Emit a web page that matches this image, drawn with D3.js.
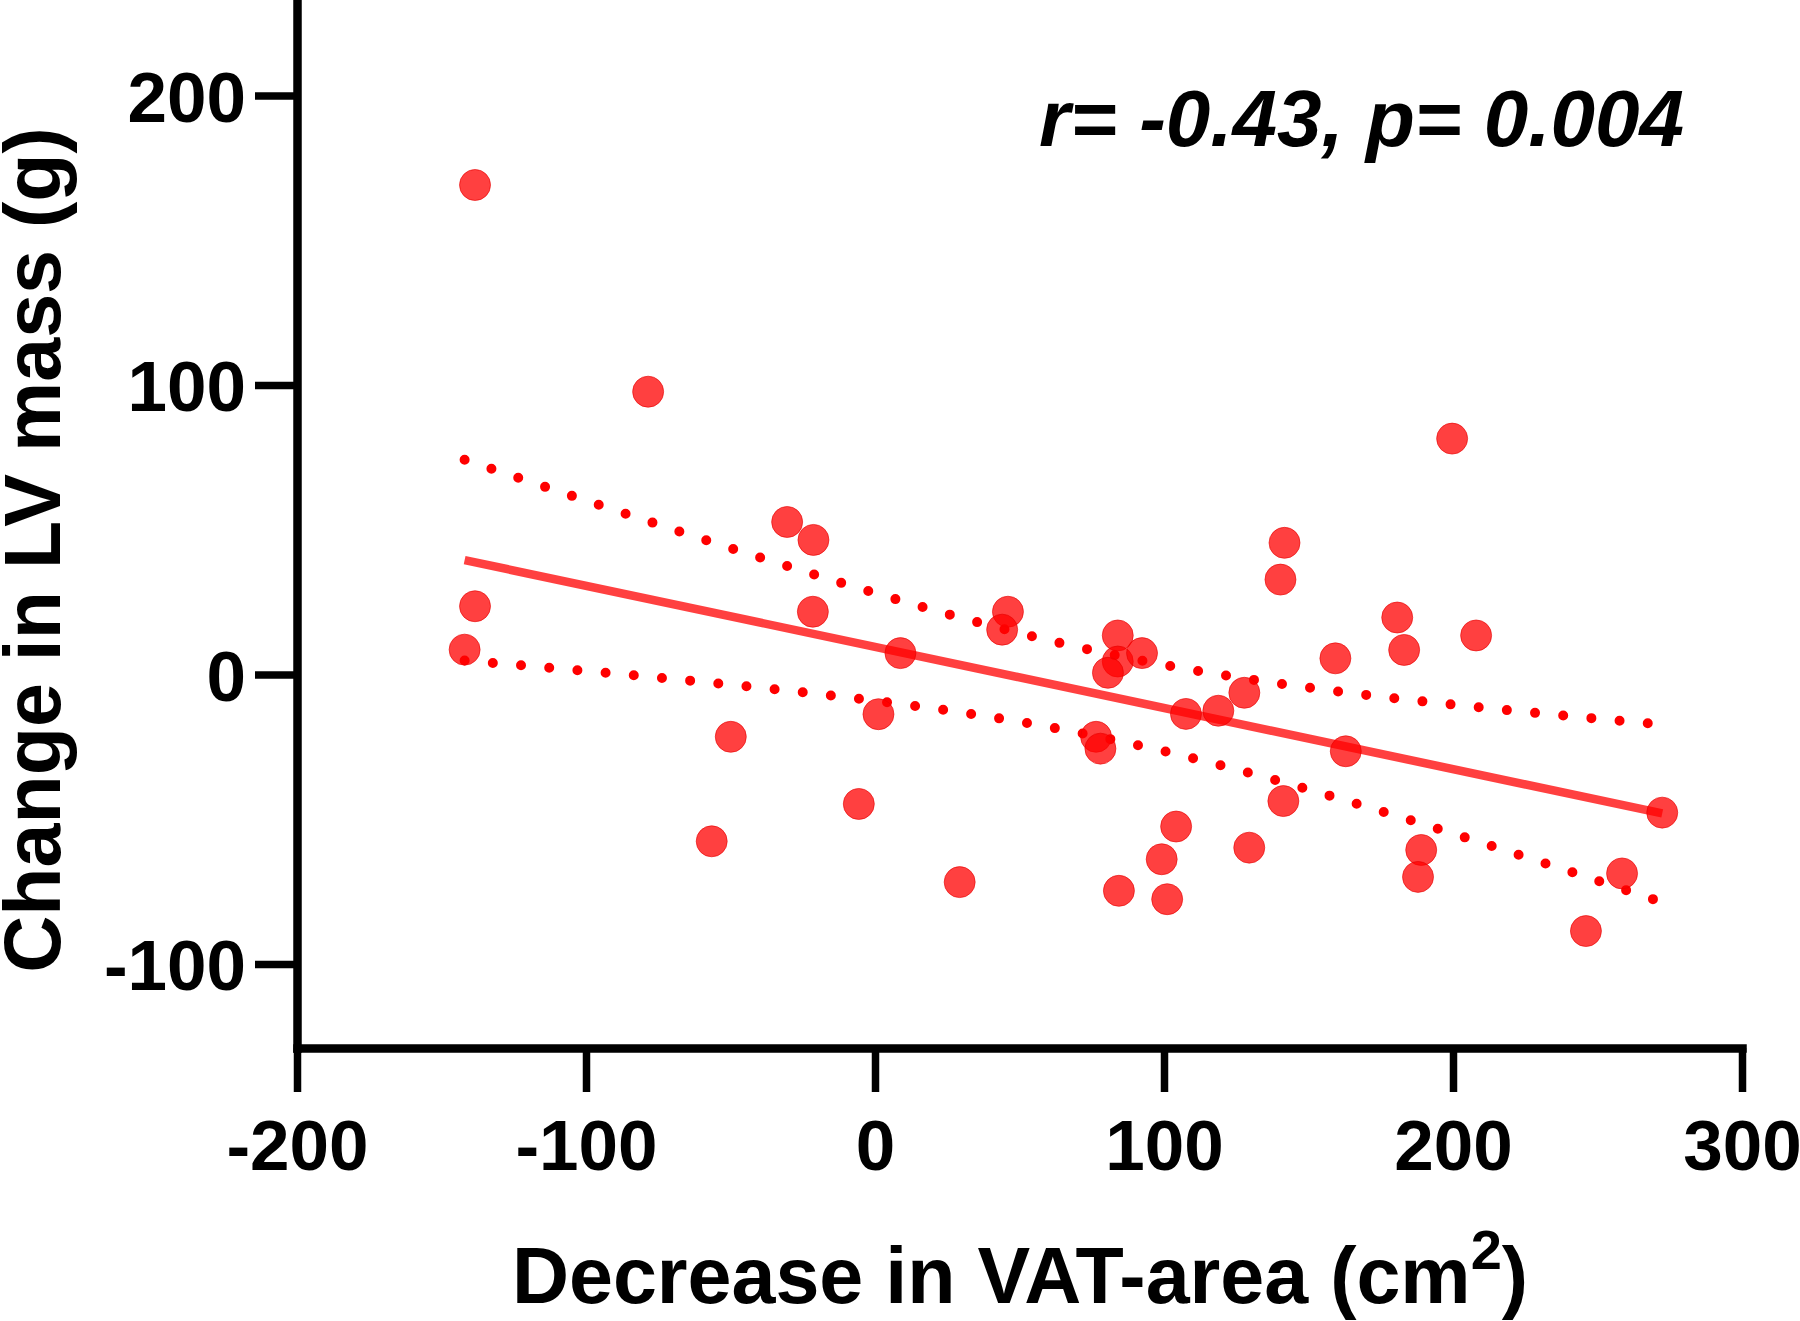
<!DOCTYPE html>
<html>
<head>
<meta charset="utf-8">
<script src="https://cdn.jsdelivr.net/npm/d3@7"></script>
<style>
  html, body { margin: 0; padding: 0; background: #fff; }
  svg { display: block; }
  text { font-family: "Liberation Sans", Arial, sans-serif; font-weight: bold; fill: #000; }
</style>
</head>
<body>
<svg id="chart" width="1800" height="1321"></svg>
<script>
// ---- data ----
const vatDecrease = [
  -138.4, -138.4, -142.0, -78.5, -30.4, -21.3, -21.5, 46.0, 44.0, 8.8,
  84.0, 84.0, 80.6, 92.4, 1.2, -49.9, 76.5, 78.0, -5.6, -56.5,
  29.3, 84.4, 199.7, 141.7, 140.3, 180.7, 208.0, 183.1, 159.3, 127.8,
  107.6, 118.8, 162.9, 141.3, 272.4, 104.2, 129.5, 99.2, 189.0, 187.9,
  258.5, 101.1, 246.0
];
const lvMassChange = [
  169.1, 23.6, 8.6, 97.7, 52.7, 46.5, 21.7, 21.7, 15.5, 7.4,
  13.5, 4.5, 0.6, 7.4, -13.7, -21.5, -21.5, -25.6, -44.7, -57.6,
  -71.7, -74.7, 81.5, 45.5, 32.8, 19.7, 13.5, 8.5, 5.6, -6.3,
  -13.6, -12.5, -26.5, -43.7, -47.7, -52.5, -59.8, -63.8, -60.6, -69.9,
  -68.7, -77.6, -88.6
];
const xTicks = [-200, -100, 0, 100, 200, 300];
const yTicks = [-100, 0, 100, 200];
const xDomain = [-200, 300];
const yDomain = [-129, 233];
const statsLabel = "r= -0.43, p= 0.004";
const xTitle = "Decrease in VAT-area (cm";
const xTitleSup = "2";
const yTitle = "Change in LV mass (g)";

// ---- layout ----
const svg = d3.select("#chart");
const x = d3.scaleLinear().domain(xDomain).range([297, 1742]);
const y = d3.scaleLinear().domain(yDomain).range([1048, 0]);
const red = "rgba(255,0,0,0.75)";

// ---- regression and 95% confidence band from the points ----
const pts = vatDecrease.map((v, i) => [v, lvMassChange[i]]);
const n = pts.length;
const mx = d3.mean(vatDecrease), my = d3.mean(lvMassChange);
const sxx = d3.sum(vatDecrease, v => (v - mx) ** 2);
const sxy = d3.sum(pts, p => (p[0] - mx) * (p[1] - my));
const slope = sxy / sxx, intercept = my - slope * mx;
const sse = d3.sum(pts, p => (p[1] - (intercept + slope * p[0])) ** 2);
const se = Math.sqrt(sse / (n - 2));
const tcrit = 2.0195; // t(0.975, df=41)
const [xmin, xmax] = d3.extent(vatDecrease);
const grid = d3.range(0, 201).map(i => xmin + (xmax - xmin) * i / 200);
const band = grid.map(v => {
  const f = intercept + slope * v;
  const h = tcrit * se * Math.sqrt(1 / n + (v - mx) ** 2 / sxx);
  return { v, f, lo: f - h, hi: f + h };
});

const line = d3.line().x(d => x(d[0])).y(d => y(d[1]));

// dotted confidence bands
["hi", "lo"].forEach(k => {
  svg.append("path")
    .attr("d", line(band.map(b => [b.v, b[k]])))
    .attr("fill", "none")
    .attr("stroke", "#ff0000")
    .attr("stroke-width", 10)
    .attr("stroke-linecap", "round")
    .attr("stroke-dasharray", "0 28.3");
});

// regression line
svg.append("path")
  .attr("d", line([[xmin, intercept + slope * xmin], [xmax, intercept + slope * xmax]]))
  .attr("fill", "none")
  .attr("stroke", red)
  .attr("stroke-width", 8.5);

// points
svg.append("g").selectAll("circle").data(pts).join("circle")
  .attr("cx", d => x(d[0]))
  .attr("cy", d => y(d[1]))
  .attr("r", 15.5)
  .attr("fill", red)
  .attr("stroke", "rgba(230,0,0,0.6)")
  .attr("stroke-width", 1);

// axes
const fmt = d => String(d);
const xAxis = svg.append("g").attr("transform", `translate(0,${y(yDomain[0])})`)
  .call(d3.axisBottom(x).tickValues(xTicks).tickFormat(fmt).tickSize(44).tickPadding(28).tickSizeOuter(0));
const yAxis = svg.append("g").attr("transform", `translate(${x(xDomain[0])},0)`)
  .call(d3.axisLeft(y).tickValues(yTicks).tickFormat(fmt).tickSize(42).tickPadding(9).tickSizeOuter(0));

[xAxis, yAxis].forEach(g => {
  g.select(".domain").attr("stroke", "#000").attr("stroke-width", 8.5).attr("stroke-linecap", "square");
  g.selectAll(".tick line").attr("stroke", "#000").attr("stroke-width", 7.5);
  g.selectAll(".tick text")
    .style("font-family", "'Liberation Sans', Arial, sans-serif")
    .style("font-weight", "bold")
    .style("font-size", "71px")
    .attr("fill", "#000");
});
xAxis.selectAll(".tick text").attr("dy", "0.71em");
yAxis.selectAll(".tick text").attr("dy", "0.36em");

// axis titles
const xt = svg.append("text")
  .attr("x", 1020).attr("y", 1303)
  .attr("text-anchor", "middle")
  .style("font-size", "79px");
xt.append("tspan").text(xTitle);
xt.append("tspan").text(xTitleSup).attr("dy", -34).style("font-size", "56px");
xt.append("tspan").text(")").attr("dy", 34);

svg.append("text")
  .attr("transform", "translate(60,550) rotate(-90)")
  .attr("text-anchor", "middle")
  .style("font-size", "79px")
  .text(yTitle);

// stats annotation
svg.append("text")
  .attr("x", 1684).attr("y", 146)
  .attr("text-anchor", "end")
  .style("font-size", "80px")
  .style("font-style", "italic")
  .text(statsLabel);
</script>
</body>
</html>
